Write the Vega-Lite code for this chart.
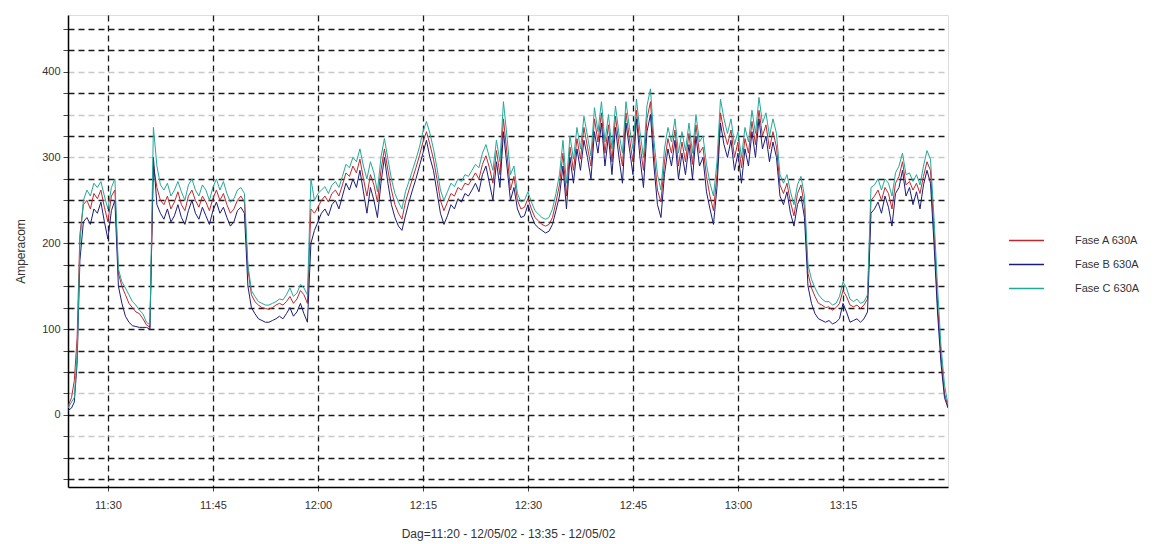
{
  "$schema": "https://vega.github.io/schema/vega-lite/v6.json",
  "autosize": {"type": "none"},
  "width": 880,
  "height": 472,
  "padding": {"left": 68, "top": 15, "right": 225, "bottom": 57},
  "background": "white",
  "config": {
    "font": "Liberation Sans",
    "view": {"stroke": "#dddddd", "strokeWidth": 1},
    "axis": {"labelFont": "Liberation Sans", "titleFont": "Liberation Sans", "labelColor": "#333333", "titleColor": "#333333", "titleFontWeight": "normal", "labelFontSize": 11, "titleFontSize": 12}
  },
  "data": {"values": [
{"m":684.3,"A":10,"B":5,"C":8},{"m":684.8,"A":20,"B":8,"C":15},{"m":685.2,"A":40,"B":15,"C":20},{"m":685.6,"A":90,"B":60,"C":70},
{"m":686.0,"A":210,"B":180,"C":200},{"m":686.5,"A":245,"B":225,"C":250},{"m":687.0,"A":250,"B":230,"C":262},{"m":687.5,"A":240,"B":222,"C":255},
{"m":688.0,"A":258,"B":240,"C":270},{"m":688.5,"A":252,"B":235,"C":265},{"m":689.0,"A":262,"B":248,"C":272},{"m":689.5,"A":242,"B":225,"C":255},
{"m":690.0,"A":225,"B":205,"C":240},{"m":690.5,"A":255,"B":238,"C":265},{"m":691.0,"A":262,"B":250,"C":275},{"m":691.5,"A":165,"B":150,"C":170},
{"m":692.0,"A":150,"B":130,"C":155},{"m":692.5,"A":140,"B":115,"C":148},{"m":693.0,"A":130,"B":108,"C":140},{"m":693.5,"A":125,"B":104,"C":132},
{"m":694.0,"A":120,"B":103,"C":128},{"m":694.5,"A":118,"B":102,"C":122},{"m":695.0,"A":112,"B":102,"C":118},{"m":695.5,"A":105,"B":102,"C":108},
{"m":696.0,"A":102,"B":100,"C":105},{"m":696.5,"A":290,"B":300,"C":335},{"m":697.0,"A":265,"B":245,"C":290},{"m":697.5,"A":250,"B":235,"C":268},
{"m":698.0,"A":245,"B":228,"C":262},{"m":698.5,"A":255,"B":240,"C":270},{"m":699.0,"A":240,"B":225,"C":255},{"m":699.5,"A":248,"B":232,"C":262},
{"m":700.0,"A":260,"B":245,"C":272},{"m":700.5,"A":245,"B":230,"C":260},{"m":701.0,"A":238,"B":222,"C":250},{"m":701.5,"A":255,"B":238,"C":268},
{"m":702.0,"A":262,"B":250,"C":275},{"m":702.5,"A":250,"B":235,"C":262},{"m":703.0,"A":242,"B":228,"C":255},{"m":703.5,"A":255,"B":242,"C":268},
{"m":704.0,"A":248,"B":232,"C":262},{"m":704.5,"A":238,"B":222,"C":250},{"m":705.0,"A":252,"B":238,"C":265},{"m":705.5,"A":262,"B":248,"C":275},
{"m":706.0,"A":250,"B":235,"C":262},{"m":706.5,"A":258,"B":242,"C":272},{"m":707.0,"A":245,"B":230,"C":258},{"m":707.5,"A":235,"B":220,"C":248},
{"m":708.0,"A":240,"B":225,"C":252},{"m":708.5,"A":250,"B":238,"C":262},{"m":709.0,"A":255,"B":242,"C":265},{"m":709.5,"A":248,"B":235,"C":258},
{"m":710.0,"A":170,"B":150,"C":175},{"m":710.5,"A":140,"B":125,"C":145},{"m":711.0,"A":132,"B":118,"C":138},{"m":711.5,"A":128,"B":112,"C":132},
{"m":712.0,"A":125,"B":110,"C":130},{"m":712.5,"A":124,"B":108,"C":128},{"m":713.0,"A":123,"B":108,"C":128},{"m":713.5,"A":125,"B":110,"C":130},
{"m":714.0,"A":128,"B":112,"C":132},{"m":714.5,"A":130,"B":115,"C":135},{"m":715.0,"A":128,"B":112,"C":134},{"m":715.5,"A":132,"B":118,"C":140},
{"m":716.0,"A":138,"B":125,"C":148},{"m":716.5,"A":130,"B":115,"C":138},{"m":717.0,"A":135,"B":120,"C":142},{"m":717.5,"A":145,"B":130,"C":152},
{"m":718.0,"A":140,"B":118,"C":148},{"m":718.5,"A":130,"B":108,"C":140},{"m":719.0,"A":240,"B":200,"C":275},{"m":719.5,"A":235,"B":215,"C":250},
{"m":720.0,"A":242,"B":225,"C":258},{"m":720.5,"A":250,"B":235,"C":262},{"m":721.0,"A":255,"B":240,"C":266},{"m":721.5,"A":248,"B":232,"C":258},
{"m":722.0,"A":258,"B":245,"C":268},{"m":722.5,"A":262,"B":250,"C":272},{"m":723.0,"A":255,"B":240,"C":265},{"m":723.5,"A":268,"B":255,"C":278},
{"m":724.0,"A":282,"B":270,"C":292},{"m":724.5,"A":278,"B":262,"C":288},{"m":725.0,"A":290,"B":275,"C":300},{"m":725.5,"A":282,"B":265,"C":295},
{"m":726.0,"A":298,"B":285,"C":310},{"m":726.5,"A":275,"B":260,"C":290},{"m":727.0,"A":255,"B":235,"C":275},{"m":727.5,"A":280,"B":265,"C":295},
{"m":728.0,"A":268,"B":250,"C":282},{"m":728.5,"A":248,"B":230,"C":260},{"m":729.0,"A":285,"B":270,"C":300},{"m":729.5,"A":310,"B":300,"C":322},
{"m":730.0,"A":285,"B":270,"C":298},{"m":730.5,"A":262,"B":245,"C":275},{"m":731.0,"A":245,"B":230,"C":258},{"m":731.5,"A":235,"B":220,"C":248},
{"m":732.0,"A":228,"B":215,"C":240},{"m":732.5,"A":248,"B":232,"C":260},{"m":733.0,"A":262,"B":248,"C":272},{"m":733.5,"A":275,"B":262,"C":285},
{"m":734.0,"A":288,"B":275,"C":298},{"m":734.5,"A":302,"B":290,"C":312},{"m":735.0,"A":318,"B":305,"C":330},{"m":735.5,"A":330,"B":320,"C":342},
{"m":736.0,"A":315,"B":300,"C":328},{"m":736.5,"A":298,"B":285,"C":310},{"m":737.0,"A":275,"B":260,"C":288},{"m":737.5,"A":250,"B":235,"C":262},
{"m":738.0,"A":238,"B":222,"C":250},{"m":738.5,"A":248,"B":232,"C":260},{"m":739.0,"A":258,"B":245,"C":270},{"m":739.5,"A":255,"B":240,"C":266},
{"m":740.0,"A":265,"B":252,"C":275},{"m":740.5,"A":262,"B":248,"C":272},{"m":741.0,"A":270,"B":258,"C":280},{"m":741.5,"A":268,"B":255,"C":278},
{"m":742.0,"A":275,"B":262,"C":285},{"m":742.5,"A":282,"B":270,"C":292},{"m":743.0,"A":275,"B":260,"C":288},{"m":743.5,"A":292,"B":280,"C":305},
{"m":744.0,"A":302,"B":290,"C":315},{"m":744.5,"A":288,"B":270,"C":300},{"m":745.0,"A":270,"B":250,"C":285},{"m":745.5,"A":308,"B":295,"C":320},
{"m":746.0,"A":280,"B":265,"C":295},{"m":746.5,"A":345,"B":330,"C":365},{"m":747.0,"A":305,"B":290,"C":325},{"m":747.5,"A":262,"B":250,"C":280},
{"m":748.0,"A":278,"B":265,"C":290},{"m":748.5,"A":250,"B":240,"C":258},{"m":749.0,"A":240,"B":230,"C":248},{"m":749.5,"A":242,"B":232,"C":250},
{"m":750.0,"A":252,"B":245,"C":260},{"m":750.5,"A":240,"B":232,"C":248},{"m":751.0,"A":230,"B":222,"C":238},{"m":751.5,"A":226,"B":218,"C":234},
{"m":752.0,"A":222,"B":215,"C":230},{"m":752.5,"A":220,"B":212,"C":228},{"m":753.0,"A":222,"B":214,"C":230},{"m":753.5,"A":230,"B":222,"C":240},
{"m":754.0,"A":248,"B":238,"C":258},{"m":754.5,"A":268,"B":255,"C":280},{"m":755.0,"A":305,"B":290,"C":320},{"m":755.5,"A":255,"B":240,"C":270},
{"m":756.0,"A":312,"B":300,"C":325},{"m":756.5,"A":285,"B":270,"C":298},{"m":757.0,"A":322,"B":310,"C":335},{"m":757.5,"A":298,"B":285,"C":310},
{"m":758.0,"A":335,"B":320,"C":348},{"m":758.5,"A":312,"B":300,"C":325},{"m":759.0,"A":290,"B":275,"C":302},{"m":759.5,"A":345,"B":330,"C":358},
{"m":760.0,"A":318,"B":305,"C":330},{"m":760.5,"A":352,"B":340,"C":365},{"m":761.0,"A":305,"B":290,"C":318},{"m":761.5,"A":338,"B":325,"C":350},
{"m":762.0,"A":295,"B":280,"C":310},{"m":762.5,"A":348,"B":335,"C":360},{"m":763.0,"A":315,"B":300,"C":328},{"m":763.5,"A":290,"B":270,"C":305},
{"m":764.0,"A":352,"B":340,"C":365},{"m":764.5,"A":322,"B":310,"C":335},{"m":765.0,"A":295,"B":280,"C":310},{"m":765.5,"A":355,"B":345,"C":368},
{"m":766.0,"A":315,"B":300,"C":330},{"m":766.5,"A":285,"B":265,"C":300},{"m":767.0,"A":345,"B":330,"C":360},{"m":767.5,"A":365,"B":350,"C":380},
{"m":768.0,"A":305,"B":290,"C":320},{"m":768.5,"A":262,"B":245,"C":280},{"m":769.0,"A":248,"B":230,"C":262},{"m":769.5,"A":295,"B":280,"C":310},
{"m":770.0,"A":322,"B":310,"C":335},{"m":770.5,"A":305,"B":290,"C":318},{"m":771.0,"A":332,"B":320,"C":345},{"m":771.5,"A":290,"B":275,"C":305},
{"m":772.0,"A":318,"B":305,"C":330},{"m":772.5,"A":295,"B":280,"C":308},{"m":773.0,"A":328,"B":315,"C":340},{"m":773.5,"A":292,"B":275,"C":305},
{"m":774.0,"A":338,"B":325,"C":350},{"m":774.5,"A":305,"B":290,"C":318},{"m":775.0,"A":312,"B":300,"C":325},{"m":775.5,"A":278,"B":260,"C":292},
{"m":776.0,"A":255,"B":240,"C":270},{"m":776.5,"A":238,"B":222,"C":255},{"m":777.0,"A":280,"B":265,"C":295},{"m":777.5,"A":352,"B":340,"C":368},
{"m":778.0,"A":330,"B":315,"C":345},{"m":778.5,"A":315,"B":300,"C":328},{"m":779.0,"A":332,"B":320,"C":345},{"m":779.5,"A":300,"B":285,"C":315},
{"m":780.0,"A":318,"B":305,"C":330},{"m":780.5,"A":288,"B":270,"C":300},{"m":781.0,"A":322,"B":310,"C":335},{"m":781.5,"A":305,"B":290,"C":318},
{"m":782.0,"A":342,"B":330,"C":355},{"m":782.5,"A":315,"B":300,"C":328},{"m":783.0,"A":355,"B":345,"C":370},{"m":783.5,"A":325,"B":310,"C":340},
{"m":784.0,"A":338,"B":325,"C":352},{"m":784.5,"A":310,"B":295,"C":325},{"m":785.0,"A":330,"B":318,"C":345},{"m":785.5,"A":312,"B":300,"C":328},
{"m":786.0,"A":268,"B":255,"C":280},{"m":786.5,"A":258,"B":245,"C":270},{"m":787.0,"A":270,"B":260,"C":280},{"m":787.5,"A":248,"B":235,"C":260},
{"m":788.0,"A":232,"B":220,"C":245},{"m":788.5,"A":258,"B":245,"C":268},{"m":789.0,"A":268,"B":255,"C":278},{"m":789.5,"A":242,"B":230,"C":255},
{"m":790.0,"A":165,"B":150,"C":175},{"m":790.5,"A":148,"B":130,"C":158},{"m":791.0,"A":138,"B":118,"C":148},{"m":791.5,"A":130,"B":112,"C":140},
{"m":792.0,"A":128,"B":110,"C":135},{"m":792.5,"A":125,"B":108,"C":132},{"m":793.0,"A":126,"B":110,"C":132},{"m":793.5,"A":122,"B":106,"C":128},
{"m":794.0,"A":125,"B":108,"C":130},{"m":794.5,"A":130,"B":112,"C":138},{"m":795.0,"A":145,"B":130,"C":155},{"m":795.5,"A":138,"B":120,"C":148},
{"m":796.0,"A":128,"B":108,"C":135},{"m":796.5,"A":126,"B":110,"C":132},{"m":797.0,"A":128,"B":112,"C":135},{"m":797.5,"A":124,"B":108,"C":130},
{"m":798.0,"A":128,"B":112,"C":132},{"m":798.5,"A":135,"B":120,"C":140},{"m":799.0,"A":250,"B":235,"C":265},{"m":799.5,"A":255,"B":240,"C":268},
{"m":800.0,"A":262,"B":248,"C":275},{"m":800.5,"A":250,"B":235,"C":262},{"m":801.0,"A":265,"B":255,"C":275},{"m":801.5,"A":258,"B":242,"C":270},
{"m":802.0,"A":240,"B":220,"C":255},{"m":802.5,"A":270,"B":258,"C":282},{"m":803.0,"A":278,"B":265,"C":290},{"m":803.5,"A":295,"B":285,"C":305},
{"m":804.0,"A":268,"B":255,"C":280},{"m":804.5,"A":272,"B":265,"C":282},{"m":805.0,"A":262,"B":245,"C":272},{"m":805.5,"A":270,"B":260,"C":280},
{"m":806.0,"A":258,"B":240,"C":268},{"m":806.5,"A":278,"B":268,"C":290},{"m":807.0,"A":295,"B":285,"C":308},{"m":807.5,"A":285,"B":270,"C":298},
{"m":808.0,"A":215,"B":200,"C":230},{"m":808.5,"A":130,"B":120,"C":150},{"m":809.0,"A":70,"B":60,"C":80},{"m":809.5,"A":25,"B":20,"C":35},
{"m":810.0,"A":10,"B":8,"C":12}
  ]},
  "transform": [{"fold": ["A", "B", "C"], "as": ["fase", "valor"]}],
  "mark": {"type": "line", "strokeWidth": 1, "clip": true},
  "encoding": {
    "x": {
      "field": "m", "type": "quantitative",
      "scale": {"domain": [684.3, 810], "nice": false, "zero": false},
      "axis": {
        "title": "Dag=11:20 - 12/05/02 - 13:35 - 12/05/02",
        "values": [690, 705, 720, 735, 750, 765, 780, 795],
        "labelExpr": "floor(datum.value/60) + ':' + (datum.value % 60 < 10 ? '0' : '') + (datum.value % 60)",
        "grid": true, "gridColor": "#1a1a1a", "gridDash": [6, 4], "gridWidth": 1.3,
        "domainColor": "#000000", "domainWidth": 1.5,
        "tickColor": "#444444", "tickSize": 4,
        "labelPadding": 8, "titlePadding": 18
      }
    },
    "y": {
      "field": "valor", "type": "quantitative",
      "scale": {"domain": [-84, 466], "nice": false, "zero": false},
      "axis": {
        "title": "Amperacom",
        "values": [-75, -50, -25, 0, 25, 50, 75, 100, 125, 150, 175, 200, 225, 250, 275, 300, 325, 350, 375, 400, 425, 450],
        "labelExpr": "datum.value % 100 === 0 ? datum.label : ''",
        "grid": true,
        "gridColor": {"condition": {"test": "indexof([300, 350, 400, 25, -25], datum.value) >= 0", "value": "#c8c8c8"}, "value": "#1a1a1a"},
        "gridDash": [6, 4], "gridWidth": 1.3,
        "domainColor": "#000000", "domainWidth": 1.5,
        "tickColor": "#444444", "tickSize": 5,
        "labelPadding": 3, "titlePadding": 14
      }
    },
    "color": {
      "field": "fase", "type": "nominal",
      "scale": {"domain": ["A", "B", "C"], "range": ["#c0282d", "#1c1c7a", "#23a89a"]},
      "legend": {
        "title": null,
        "orient": "none", "legendX": 940, "legendY": 207,
        "symbolType": "stroke", "symbolSize": 1225, "symbolStrokeWidth": 1.5,
        "labelExpr": "'Fase ' + datum.label + ' 630A'",
        "labelFontSize": 11, "labelColor": "#333333", "labelOffset": 30, "rowPadding": 0
      }
    }
  }
}
